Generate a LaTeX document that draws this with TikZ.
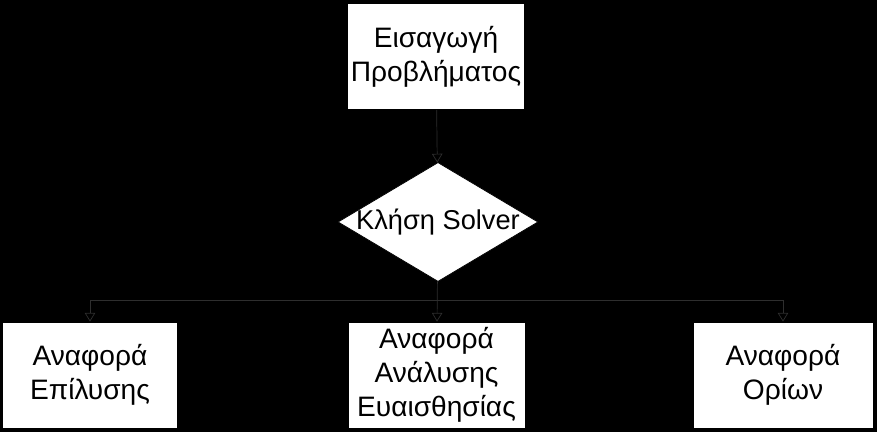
\documentclass[tikz,border=0pt]{standalone}
\usepackage{fontspec}
\setmainfont{Liberation Sans}
\usetikzlibrary{shapes.geometric,arrows.meta}

\tikzset{
    box/.style={draw=black, fill=white, align=center, minimum width=3.5cm, minimum height=2.12cm, inner sep=2pt},
    decision/.style={diamond, draw=black, fill=white, minimum width=4cm, minimum height=2.38cm, inner sep=0pt},
    conn/.style={draw=black!82, -{Triangle[open, width=6pt, length=5pt]}}
}

\begin{document}
\begin{tikzpicture}[font=\fontsize{16}{19.5}\selectfont]
    \fill[black] (0,0) rectangle (17.54,8.64);
    \useasboundingbox (0,0) rectangle (17.54,8.64);

    % Boites
    \node[box] (entry) at (8.72, 7.51) {Εισαγωγή\\Προβλήματος};
    \node[decision, label={[font=\fontsize{15.5}{18}\selectfont]center:Κλήση Solver}] (solver) at (8.76, 4.2) {};
    \node[box] (solve) at (1.80, 1.14) {Αναφορά\\Επίλυσης};
    \node[box, minimum width=3.54cm] (sens) at (8.73, 1.14) {Αναφορά\\Ανάλυσης\\Ευαισθησίας};
    \node[box, minimum width=3.6cm] (limits) at (15.66, 1.14) {Αναφορά\\Ορίων};

    % Liens
    \coordinate (split) at (8.76, 2.64);
    \draw[conn] (entry) -- (solver);
    \draw[conn] (solver) -- (sens);
    \draw[conn] (split) -| (solve);
    \draw[conn] (split) -| (limits);
\end{tikzpicture}
\end{document}
